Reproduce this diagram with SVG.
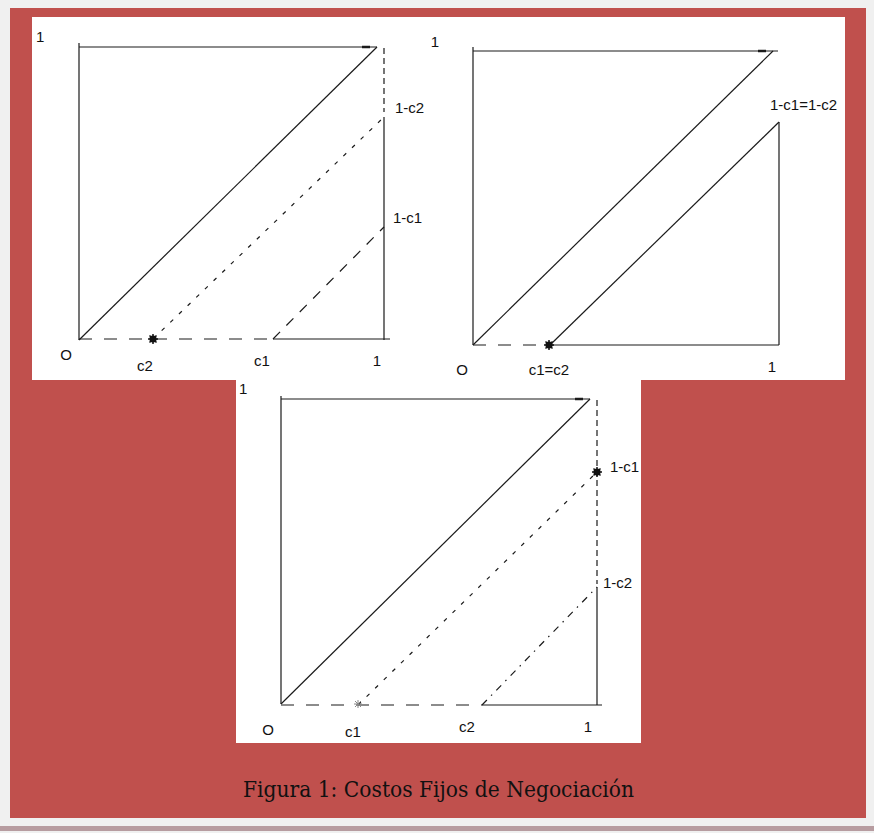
<svg xmlns="http://www.w3.org/2000/svg" width="874" height="833" viewBox="0 0 874 833">
<defs>
<style>
.ln{stroke:#1a1a1a;stroke-width:1.2;fill:none}
.dash{stroke-dasharray:13 12}
.vdash{stroke-dasharray:6 4}
.dot{stroke-dasharray:4 8}
.ldash{stroke-dasharray:10 9}
.dd{stroke-dasharray:7 6 1.5 6}
.tick{stroke:#1a1a1a;stroke-width:2.5}
.lbl{font-family:"Liberation Sans",Arial,sans-serif;font-size:15px;fill:#111}
.mid{text-anchor:middle}
.cap{font-family:"DejaVu Serif","Liberation Serif",serif;font-size:23px;fill:#111}
</style>
<g id="star">
<circle cx="0" cy="0" r="3.6" fill="#111"/>
<path d="M-5 0H5M0-5V5M-3.5-3.5L3.5 3.5M-3.5 3.5L3.5-3.5" stroke="#111" stroke-width="1.5"/>
</g>
</defs>
<rect x="0" y="0" width="874" height="833" fill="#f0f0f0"/>
<rect x="10" y="8" width="856" height="810" fill="#c0504d"/>
<rect x="0" y="826" width="874" height="5" fill="#b79ca0"/>
<path d="M32 17H845V380H641V743H236V380H32Z" fill="#ffffff"/>

<g id="panel-top-left">
<line class="ln" x1="79" y1="43" x2="79" y2="340"/>
<line class="ln" x1="79" y1="47" x2="377" y2="47"/>
<line class="tick" x1="362" y1="47" x2="370" y2="47"/>
<line class="ln" x1="79" y1="340" x2="377" y2="47"/>
<line class="ln vdash" x1="384" y1="48" x2="384" y2="112"/>
<line class="ln" x1="384" y1="117" x2="384" y2="340"/>
<line class="ln dash" x1="79" y1="339" x2="273" y2="339"/>
<line class="ln" x1="273" y1="339" x2="390" y2="339"/>
<line class="ln dot" x1="153" y1="339" x2="384" y2="117"/>
<line class="ln ldash" x1="273" y1="339" x2="384" y2="227"/>
<use href="#star" x="153" y="339"/>
<text class="lbl" x="36" y="42">1</text>
<text class="lbl mid" x="66" y="360">O</text>
<text class="lbl mid" x="145" y="371">c2</text>
<text class="lbl mid" x="262" y="366">c1</text>
<text class="lbl mid" x="377" y="366">1</text>
<text class="lbl" x="395" y="113">1-c2</text>
<text class="lbl" x="393" y="223">1-c1</text>
</g>

<g id="panel-top-right">
<line class="ln" x1="473" y1="47" x2="473" y2="345"/>
<line class="ln" x1="473" y1="51" x2="778" y2="51"/>
<line class="tick" x1="758" y1="51" x2="766" y2="51"/>
<line class="ln" x1="473" y1="345" x2="773" y2="51"/>
<line class="ln" x1="550" y1="345" x2="779" y2="122"/>
<line class="ln" x1="779" y1="122" x2="779" y2="345"/>
<line class="ln dash" x1="473" y1="345" x2="550" y2="345"/>
<line class="ln" x1="550" y1="345" x2="779" y2="345"/>
<use href="#star" x="549" y="345"/>
<text class="lbl mid" x="435" y="47">1</text>
<text class="lbl" x="770" y="110">1-c1=1-c2</text>
<text class="lbl mid" x="462" y="375">O</text>
<text class="lbl mid" x="549" y="375">c1=c2</text>
<text class="lbl mid" x="772" y="372">1</text>
</g>

<g id="panel-bottom">
<line class="ln" x1="281" y1="396" x2="281" y2="704"/>
<line class="ln" x1="281" y1="399" x2="590" y2="399"/>
<line class="tick" x1="575" y1="399" x2="583" y2="399"/>
<line class="ln" x1="281" y1="704" x2="590" y2="399"/>
<line class="ln vdash" x1="597" y1="400" x2="597" y2="584"/>
<line class="ln" x1="597" y1="587" x2="597" y2="705"/>
<line class="ln dash" x1="281" y1="705" x2="482" y2="705"/>
<line class="ln" x1="482" y1="705" x2="602" y2="705"/>
<line class="ln dot" x1="358" y1="705" x2="597" y2="472"/>
<line class="ln dd" x1="482" y1="705" x2="597" y2="587"/>
<use href="#star" x="597" y="472"/>
<g transform="translate(358 704)"><path d="M-4 0H4M0-4V4M-3-3L3 3M-3 3L3-3" stroke="#888" stroke-width="1"/></g>
<text class="lbl" x="239" y="394">1</text>
<text class="lbl mid" x="268" y="735">O</text>
<text class="lbl mid" x="353" y="737">c1</text>
<text class="lbl mid" x="467" y="732">c2</text>
<text class="lbl mid" x="588" y="732">1</text>
<text class="lbl" x="610" y="472">1-c1</text>
<text class="lbl" x="603" y="588">1-c2</text>
</g>

<text class="cap" x="243" y="797" textLength="391" lengthAdjust="spacingAndGlyphs">Figura 1: Costos Fijos de Negociación</text>
</svg>
